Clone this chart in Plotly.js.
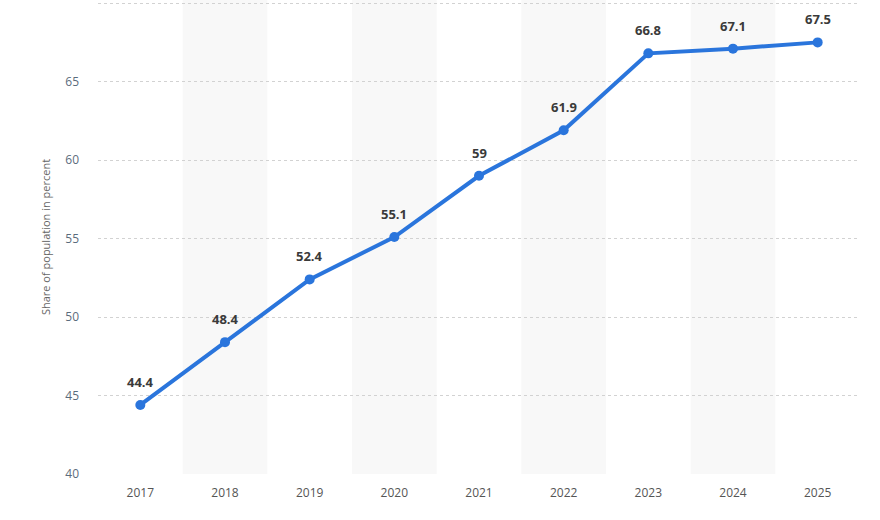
<!DOCTYPE html>
<html>
<head>
<meta charset="utf-8">
<script src="https://cdn.plot.ly/plotly-3.0.1.min.js"></script>
<style>html,body{margin:0;padding:0;background:#fff;}#chart{width:880px;height:520px;}</style>
</head>
<body>
<div id="chart"></div>
<script>
const years = ['2017','2018','2019','2020','2021','2022','2023','2024','2025'];
const shares = [44.4, 48.4, 52.4, 55.1, 59, 61.9, 66.8, 67.1, 67.5];
const yTicks = [40, 45, 50, 55, 60, 65, 70];

const shapes = years.map((y, i) => i % 2 === 1 ? {
  type: 'rect', xref: 'x', yref: 'paper',
  x0: i - 0.5, x1: i + 0.5, y0: 0, y1: 1,
  fillcolor: '#f8f8f8', line: {width: 0}, layer: 'below'
} : null).filter(Boolean);

const annotations = shares.map((v, i) => ({
  x: i, y: v, xref: 'x', yref: 'y',
  text: String(v), showarrow: false,
  yshift: 23,
  font: {family: 'Open Sans, sans-serif', size: 13, color: '#3a3a3a', weight: 'bold'}
}));

const trace = {
  x: years.map((y, i) => i),
  y: shares,
  type: 'scatter',
  mode: 'lines+markers',
  line: {color: '#2a75dc', width: 4},
  marker: {color: '#2a75dc', size: 10},
  cliponaxis: false,
  hoverinfo: 'none'
};

const layout = {
  width: 880, height: 520,
  margin: {l: 98, r: 20, t: 0, b: 46},
  paper_bgcolor: '#ffffff', plot_bgcolor: '#ffffff',
  showlegend: false,
  shapes: shapes,
  annotations: annotations,
  xaxis: {
    range: [-0.5, 8.5],
    tickmode: 'array',
    tickvals: years.map((y, i) => i),
    ticktext: years,
    showgrid: false, zeroline: false, showline: false,
    ticks: '', ticklen: 0, ticklabelstandoff: 10,
    tickfont: {family: 'Open Sans, sans-serif', size: 12, color: '#555555'},
    fixedrange: true
  },
  yaxis: {
    range: [40, 70.2],
    tickmode: 'array',
    tickvals: yTicks,
    ticktext: yTicks.map(v => v === 70 ? '' : String(v)),
    showgrid: true, gridcolor: '#d2d2d2', griddash: 'dot', gridwidth: 1,
    zeroline: false, showline: false,
    ticks: '', ticklabelstandoff: 18,
    tickfont: {family: 'Open Sans, sans-serif', size: 12, color: '#5b6b7c'},
    title: {text: 'Share of population in percent', standoff: 12,
      font: {family: 'Open Sans, sans-serif', size: 11, color: '#666666'}},
    fixedrange: true
  }
};

Plotly.newPlot('chart', [trace], layout, {displayModeBar: false, staticPlot: true});
</script>
</body>
</html>
